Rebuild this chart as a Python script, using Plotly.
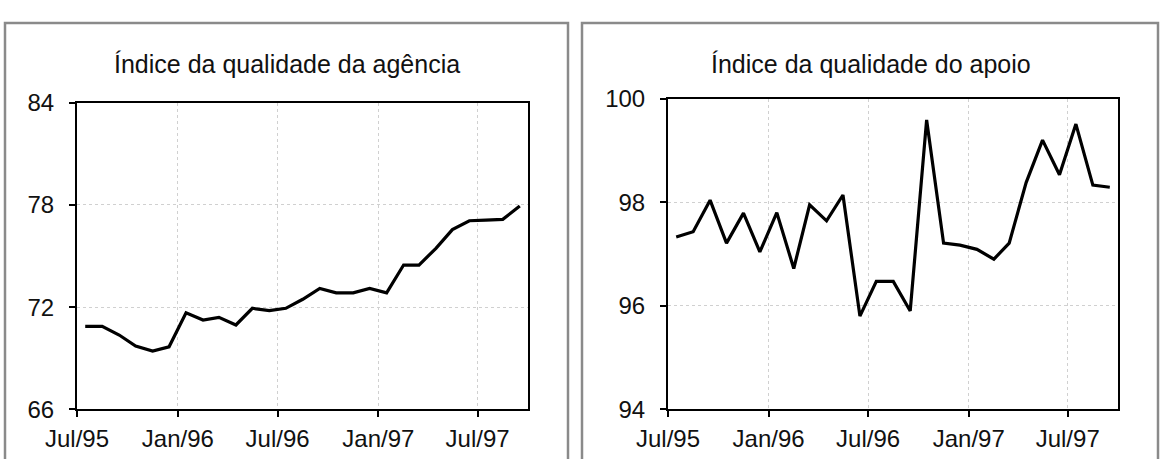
import pandas as pd
import plotly.graph_objects as go

# Monthly observations, Jul/95 .. Sep/97 (plotted at mid-month)
months = pd.date_range("1995-07-01", periods=27, freq="MS") + pd.Timedelta(days=15)

agencia = [70.87, 70.87, 70.36, 69.71, 69.42, 69.67, 71.67, 71.24, 71.40, 70.95,
           71.93, 71.79, 71.93, 72.46, 73.10, 72.84, 72.84, 73.10, 72.84, 74.47,
           74.47, 75.45, 76.55, 77.07, 77.11, 77.15, 77.93]

apoio = [97.33, 97.43, 98.04, 97.21, 97.79, 97.04, 97.80, 96.72, 97.95, 97.64,
         98.14, 95.80, 96.47, 96.47, 95.90, 99.59, 97.21, 97.17, 97.09, 96.90,
         97.21, 98.38, 99.20, 98.53, 99.51, 98.33, 98.29]

titles = ["Índice da qualidade da agência", "Índice da qualidade do apoio"]
tick_dates = ["1995-07-01", "1996-01-01", "1996-07-01", "1997-01-01", "1997-07-01"]
tick_labels = ["Jul/95", "Jan/96", "Jul/96", "Jan/97", "Jul/97"]
y_ticks_left = [66, 72, 78, 84]
y_ticks_right = [94, 96, 98, 100]

W, H = 1166, 459
FONT = "Liberation Sans, Arial, sans-serif"

fig = go.Figure()
fig.add_trace(go.Scatter(x=months, y=agencia, mode="lines",
                         line=dict(color="black", width=3.2), xaxis="x", yaxis="y",
                         showlegend=False))
fig.add_trace(go.Scatter(x=months, y=apoio, mode="lines",
                         line=dict(color="black", width=3.2), xaxis="x2", yaxis="y2",
                         showlegend=False))

def px_x(p):
    return p / W

def px_y(p):
    return 1 - p / H

common_x = dict(
    type="date", range=["1995-07-01", "1997-10-01"],
    tickvals=tick_dates, ticktext=tick_labels,
    showline=True, mirror=True, linecolor="black", linewidth=2,
    ticks="outside", ticklen=6, tickwidth=1.5, tickcolor="black",
    showgrid=True, gridcolor="#d0d0d0", griddash="dot", gridwidth=1,
    zeroline=False, tickfont=dict(family=FONT, size=24, color="#111"),
    ticklabelstandoff=1, automargin=False,
)
common_y = dict(
    showline=True, mirror=True, linecolor="black", linewidth=2,
    ticks="outside", ticklen=6, tickwidth=1.5, tickcolor="black",
    showgrid=True, gridcolor="#d0d0d0", griddash="dot", gridwidth=1,
    zeroline=False, tickfont=dict(family=FONT, size=24, color="#111"),
    ticklabelstandoff=10, automargin=False,
)

fig.update_layout(
    width=W, height=H,
    margin=dict(l=0, r=0, t=0, b=0),
    paper_bgcolor="white", plot_bgcolor="white",
    xaxis=dict(domain=[px_x(77), px_x(528)], anchor="y", **common_x),
    yaxis=dict(domain=[px_y(409.3), px_y(102.7)], anchor="x",
               range=[66, 84], tickvals=y_ticks_left, **common_y),
    xaxis2=dict(domain=[px_x(668), px_x(1118)], anchor="y2", **common_x),
    yaxis2=dict(domain=[px_y(409.3), px_y(98.7)], anchor="x2",
                range=[94, 100], tickvals=y_ticks_right, **common_y),
)

# panel frames
for x0, x1 in [(5, 568), (582, 1158)]:
    fig.add_shape(type="rect", xref="paper", yref="paper",
                  x0=px_x(x0), x1=px_x(x1), y0=-0.1, y1=px_y(23),
                  line=dict(color="#8a8a8a", width=2.5), fillcolor="rgba(0,0,0,0)",
                  layer="below")

# panel titles
for title, cx in zip(titles, [287, 871]):
    fig.add_annotation(text=title, xref="paper", yref="paper",
                       x=px_x(cx), y=px_y(64), xanchor="center", yanchor="middle",
                       showarrow=False, font=dict(family=FONT, size=25, color="#111"))

fig.write_html("out.html")
